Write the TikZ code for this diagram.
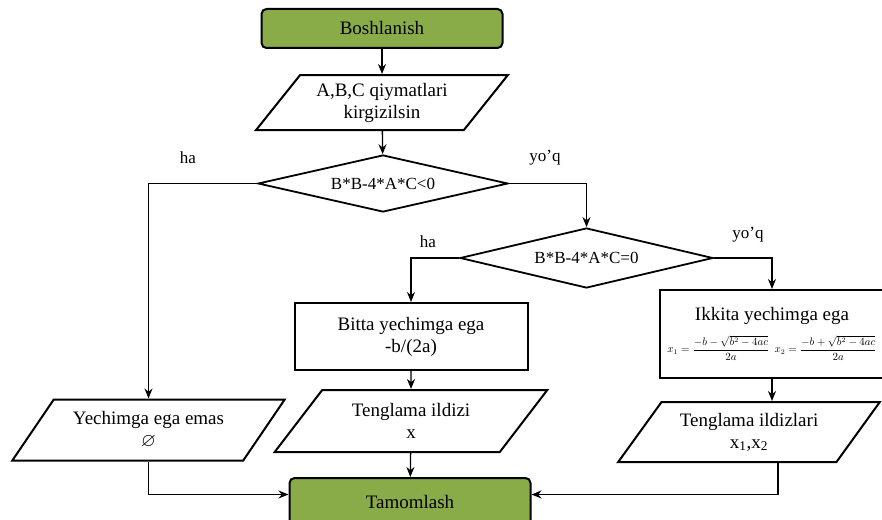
\documentclass[tikz,border=0pt]{standalone}
\usepackage{amsmath,amssymb}
\usepackage{fontspec}
\setmainfont{Liberation Serif}
\usetikzlibrary{arrows.meta,shapes.geometric,positioning}

\definecolor{termgreen}{RGB}{137,171,72}

\begin{document}
\begin{tikzpicture}[x=1pt, y=-1pt, font=\fontsize{19}{22}\selectfont]
            \tikzstyle{term} = [rectangle, draw, fill=termgreen, rounded corners=5pt, line width=2pt, minimum width=241pt, minimum height=39pt]
            \tikzstyle{io} = [trapezium, trapezium left angle=48, trapezium right angle=132, trapezium stretches=true, draw, line width=2pt, inner sep=0pt, align=center]
            \tikzstyle{decide} = [diamond, aspect=4.4, draw, line width=1.8pt, inner sep=0pt, font=\fontsize{17}{20}\selectfont]
            \tikzstyle{block} = [rectangle, draw, line width=2pt, align=center]
            \tikzstyle{arrow} = [line width=1.3pt, -{Stealth[length=10pt,width=8pt]}]
            \tikzstyle{answer} = [font=\fontsize{17}{20}\selectfont]

            \useasboundingbox (0,0) rectangle (882,519);

            \node [term] (start) at (382,28.5) {Boshlanish};
            \node [io, minimum width=252pt, minimum height=55pt] (input) at (382,102.5) {A,B,C qiymatlari\\kirgizilsin};
            \node [decide, minimum width=250pt, minimum height=57pt] (disc) at (383,183.5) {B*B-4*A*C<0};
            \node [decide, minimum width=253pt, minimum height=60pt] (iszero) at (586.5,258) {B*B-4*A*C=0};
            \node [block, minimum width=233pt, minimum height=67pt] (single) at (411,336.5) {Bitta yechimga ega\\-b/(2a)};
            \node [block, minimum width=224pt, minimum height=88pt] (double) at (772,334) {Ikkita yechimga ega\\[10pt]{\fontsize{10.5}{12}\selectfont $x_1=\dfrac{-b-\sqrt{b^2-4ac}}{2a}$\enspace$x_2=\dfrac{-b+\sqrt{b^2-4ac}}{2a}$}};
            \node [io, minimum width=273pt, minimum height=61pt] (noroot) at (148.5,430) {Yechimga ega emas\\$\varnothing$};
            \node [io, minimum width=273pt, minimum height=62pt] (oneroot) at (411,421) {Tenglama ildizi\\x};
            \node [io, minimum width=262pt, minimum height=60pt] (tworoots) at (749,432) {Tenglama ildizlari\\x\textsubscript{1},x\textsubscript{2}};
            \node [term, minimum height=47pt] (finish) at (410,501.5) {Tamomlash};

            \node [answer] (yes1) at (188,158) {ha};
            \node [answer] (no1) at (545,158) {yo’q};
            \node [answer] (yes2) at (428,242) {ha};
            \node [answer] (no2) at (748,235) {yo’q};

            \draw [arrow] (start) -- (input);
            \draw [arrow] (input) -- (disc);
            \draw [arrow] (disc.west) -| (noroot);
            \draw [arrow] (disc.east) -| (iszero);
            \draw [arrow] (iszero.west) -| (single);
            \draw [arrow] (iszero.east) -| (double);
            \draw [arrow] (single) -- (oneroot);
            \draw [arrow] (double.south) -- (double.south |- tworoots.north);
            \draw [arrow] (oneroot) -- (finish);
            \draw [arrow] (noroot.south) |- ([yshift=7pt]finish.west);
            \draw [arrow] ([xshift=29pt]tworoots.south) |- ([yshift=7pt]finish.east);
        \end{tikzpicture}
\end{document}
